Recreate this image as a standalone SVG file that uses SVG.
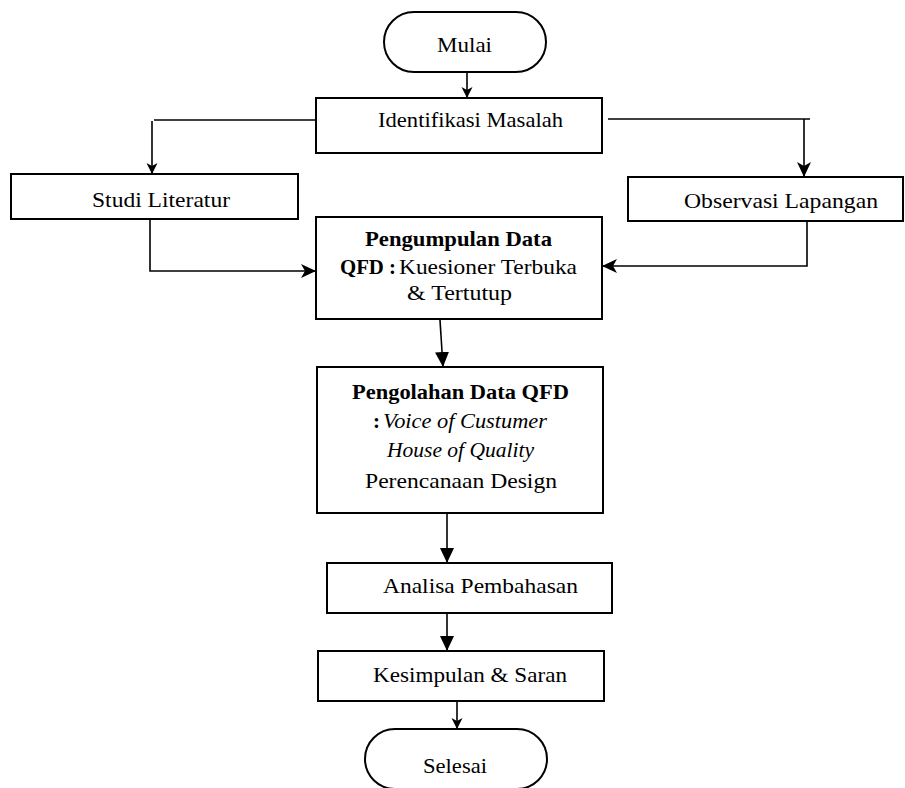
<svg xmlns="http://www.w3.org/2000/svg" width="905" height="788" viewBox="0 0 905 788">
<style>
.box{fill:#fff;stroke:#000;stroke-width:2}
.ln{fill:none;stroke:#000;stroke-width:1.6}
text{font-family:"Liberation Serif","Times New Roman",serif;font-size:21px;fill:#000}
.b{font-weight:bold}
.i{font-style:italic}
</style>
<defs>
<marker id="tri" markerUnits="userSpaceOnUse" markerWidth="16" markerHeight="16" viewBox="0 0 16 16" refX="15" refY="8" orient="auto">
<path d="M0,1 L15,8 L0,15 Z" fill="#000"/>
</marker>
<marker id="small" markerUnits="userSpaceOnUse" markerWidth="12" markerHeight="12" viewBox="0 0 12 12" refX="11" refY="6" orient="auto">
<path d="M0,0.5 L11,6 L0,11.5 L3,6 Z" fill="#000"/>
</marker>
<marker id="barb" markerUnits="userSpaceOnUse" markerWidth="16" markerHeight="16" viewBox="0 0 16 16" refX="15" refY="8" orient="auto">
<path d="M0,1 L15,8 L0,15 L4,8 Z" fill="#000"/>
</marker>
</defs>

<g id="connectors">
<line class="ln" x1="467" y1="72" x2="467" y2="98" marker-end="url(#small)"/>
<line class="ln" x1="320" y1="120" x2="154" y2="120"/>
<line class="ln" x1="152" y1="121" x2="152" y2="174" marker-end="url(#small)"/>
<line class="ln" x1="608" y1="119" x2="810" y2="119"/>
<line class="ln" x1="804" y1="119" x2="804" y2="177" marker-end="url(#barb)"/>
<path class="ln" d="M150,220 V271 H316" marker-end="url(#barb)"/>
<path class="ln" d="M807,222 V266 H602" marker-end="url(#barb)"/>
<line class="ln" x1="440" y1="320" x2="443" y2="367" marker-end="url(#tri)"/>
<line class="ln" x1="447" y1="513" x2="447" y2="563" marker-end="url(#tri)"/>
<line class="ln" x1="447" y1="613" x2="447" y2="651" marker-end="url(#tri)"/>
<line class="ln" x1="457" y1="701" x2="457" y2="729" marker-end="url(#small)"/>
</g>

<g id="mulai">
<rect class="box" x="384" y="12" width="162" height="60" rx="30" ry="30"/>
<text x="437" y="52" textLength="55" lengthAdjust="spacingAndGlyphs">Mulai</text>
</g>

<g id="identifikasi">
<rect class="box" x="316" y="98" width="286" height="55"/>
<text x="378" y="127" textLength="185" lengthAdjust="spacingAndGlyphs">Identifikasi Masalah</text>
</g>

<g id="studi">
<rect class="box" x="11" y="174" width="287" height="45"/>
<text x="92" y="207" textLength="138" lengthAdjust="spacingAndGlyphs">Studi Literatur</text>
</g>

<g id="observasi">
<rect class="box" x="628" y="177" width="275" height="44"/>
<text x="684" y="208" textLength="194" lengthAdjust="spacingAndGlyphs">Observasi Lapangan</text>
</g>

<g id="pengumpulan">
<rect class="box" x="316" y="217" width="286" height="102"/>
<text x="365" y="246" class="b" textLength="187" lengthAdjust="spacingAndGlyphs">Pengumpulan Data</text>
<text y="274"><tspan x="340" class="b" textLength="56" lengthAdjust="spacingAndGlyphs">QFD :</tspan><tspan x="399" textLength="178" lengthAdjust="spacingAndGlyphs">Kuesioner Terbuka</tspan></text>
<text x="407" y="300" textLength="105" lengthAdjust="spacingAndGlyphs">&amp; Tertutup</text>
</g>

<g id="pengolahan">
<rect class="box" x="317" y="367" width="286" height="146"/>
<text x="352" y="399" class="b" textLength="217" lengthAdjust="spacingAndGlyphs">Pengolahan Data QFD</text>
<text y="428"><tspan x="373" class="b">:</tspan><tspan x="383" class="i" textLength="164" lengthAdjust="spacingAndGlyphs">Voice of  Custumer</tspan></text>
<text x="387" y="457" class="i" textLength="147" lengthAdjust="spacingAndGlyphs">House of Quality</text>
<text x="365" y="488" textLength="192" lengthAdjust="spacingAndGlyphs">Perencanaan Design</text>
</g>

<g id="analisa">
<rect class="box" x="327" y="563" width="285" height="50"/>
<text x="383" y="593" textLength="195" lengthAdjust="spacingAndGlyphs">Analisa Pembahasan</text>
</g>

<g id="kesimpulan">
<rect class="box" x="318" y="651" width="286" height="50"/>
<text x="373" y="682" textLength="194" lengthAdjust="spacingAndGlyphs">Kesimpulan &amp; Saran</text>
</g>

<g id="selesai">
<rect class="box" x="365" y="729" width="182" height="60" rx="30" ry="30"/>
<text x="423" y="773" textLength="64" lengthAdjust="spacingAndGlyphs">Selesai</text>
</g>
</svg>
